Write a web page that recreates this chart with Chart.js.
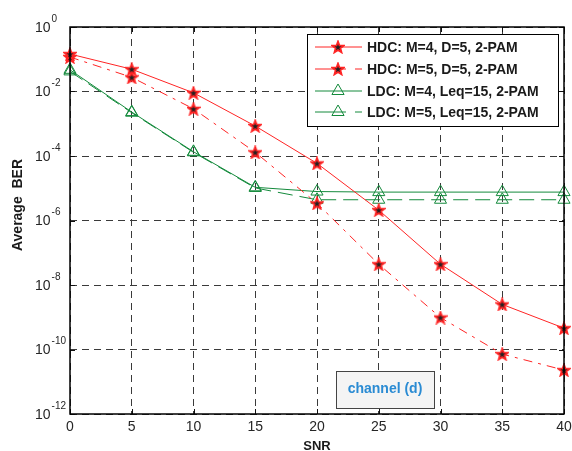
<!DOCTYPE html>
<html>
<head>
<meta charset="utf-8">
<script src="https://cdn.jsdelivr.net/npm/chart.js@4.4.1/dist/chart.umd.min.js"></script>
<style>
  html, body { margin: 0; padding: 0; background: #fff; }
  #wrap { width: 572px; height: 451px; }
</style>
</head>
<body>
<div id="wrap"><canvas id="myChart" width="572" height="451"></canvas></div>
<script>
// SNR values (x axis)
const snr = [0, 5, 10, 15, 20, 25, 30, 35, 40];

// Average BER
const hdcM4 = [1.45e-1, 4.9e-2, 9.1e-3, 8.5e-4, 5.9e-5, 2.1e-6, 4.4e-8, 2.5e-9, 4.6e-10];
const hdcM5 = [1.17e-1, 2.75e-2, 2.9e-3, 1.3e-4, 3.4e-6, 4.4e-8, 9.8e-10, 7.2e-11, 2.3e-11];
const ldcM4 = [4.7e-2, 2.3e-3, 1.35e-4, 1.07e-5, 7.9e-6, 7.6e-6, 7.6e-6, 7.6e-6, 7.6e-6];
const ldcM5 = [4.2e-2, 2.2e-3, 1.3e-4, 1.02e-5, 4.4e-6, 4.4e-6, 4.4e-6, 4.4e-6, 4.4e-6];

const seriesNames = [
    'HDC: M=4, D=5, 2-PAM',
    'HDC: M=5, D=5, 2-PAM',
    'LDC: M=4, Leq=15, 2-PAM',
    'LDC: M=5, Leq=15, 2-PAM'
];

// tick labels
const xTicks = [0, 5, 10, 15, 20, 25, 30, 35, 40];
const yExponents = [0, -2, -4, -6, -8, -10, -12];

const RED = '#ff2424';
const GREEN = '#148a3c';
const RED_DASH = [9, 6, 3, 6];
const GREEN_DASH = [15, 7];

// red pentagram with dark centre, like the matlab marker
function makeStar(size) {
    const c = document.createElement('canvas');
    c.width = size; c.height = size;
    const g = c.getContext('2d');
    const cx = size / 2, cy = size / 2 + 0.5;
    const ro = size / 2 - 1, ri = ro * 0.42;
    g.beginPath();
    for (let i = 0; i < 10; i++) {
        const r = i % 2 === 0 ? ro : ri;
        const a = -Math.PI / 2 + i * Math.PI / 5;
        const px = cx + r * Math.cos(a), py = cy + r * Math.sin(a);
        if (i === 0) g.moveTo(px, py); else g.lineTo(px, py);
    }
    g.closePath();
    g.fillStyle = '#222';
    g.fill();
    g.strokeStyle = RED;
    g.lineWidth = 1.8;
    g.stroke();
    return c;
}
const starImg = makeStar(14);

function toPoints(ys) {
    return snr.map((x, i) => ({ x: x, y: ys[i] }));
}

function drawMarker(ctx, kind, x, y) {
    if (kind === 'star') {
        ctx.drawImage(starImg, x - starImg.width / 2, y - starImg.height / 2);
    } else {
        const r = 7;
        ctx.beginPath();
        ctx.moveTo(x, y - r);
        ctx.lineTo(x + r * 0.87, y + r * 0.5);
        ctx.lineTo(x - r * 0.87, y + r * 0.5);
        ctx.closePath();
        ctx.strokeStyle = GREEN;
        ctx.lineWidth = 1;
        ctx.setLineDash([]);
        ctx.stroke();
    }
}

// axes labels, box, legend and annotation, matlab style
const decorPlugin = {
    id: 'decor',
    afterDatasetsDraw(chart) {
        const ctx = chart.ctx;
        const area = chart.chartArea;
        const xs = chart.scales.x, ys = chart.scales.y;
        ctx.save();

        // inner tick marks
        ctx.strokeStyle = '#111';
        ctx.lineWidth = 1;
        ctx.setLineDash([]);
        ctx.beginPath();
        xTicks.forEach(v => {
            const px = Math.round(xs.getPixelForValue(v)) + 0.5;
            ctx.moveTo(px, area.bottom); ctx.lineTo(px, area.bottom - 5);
            ctx.moveTo(px, area.top); ctx.lineTo(px, area.top + 5);
        });
        yExponents.forEach(e => {
            const py = Math.round(ys.getPixelForValue(Math.pow(10, e))) + 0.5;
            ctx.moveTo(area.left, py); ctx.lineTo(area.left + 5, py);
            ctx.moveTo(area.right, py); ctx.lineTo(area.right - 5, py);
        });
        ctx.stroke();

        // box
        ctx.lineWidth = 1.5;
        ctx.strokeStyle = '#000';
        ctx.strokeRect(area.left, area.top, area.right - area.left, area.bottom - area.top);

        // x tick labels
        ctx.fillStyle = '#262626';
        ctx.font = '14px "Liberation Sans", Arial, sans-serif';
        ctx.textAlign = 'center';
        ctx.textBaseline = 'middle';
        xTicks.forEach(v => {
            ctx.fillText(String(v), xs.getPixelForValue(v), 427);
        });

        // y tick labels 10^e
        yExponents.forEach(e => {
            const py = ys.getPixelForValue(Math.pow(10, e));
            ctx.font = '14px "Liberation Sans", Arial, sans-serif';
            ctx.textAlign = 'left';
            ctx.fillText('10', 35, py + 1);
            const w = ctx.measureText('10').width;
            ctx.font = '10px "Liberation Sans", Arial, sans-serif';
            ctx.fillText(String(e), 35 + w + 1, py - 8);
        });

        // axis titles
        ctx.fillStyle = '#1a1a1a';
        ctx.font = 'bold 13px "Liberation Sans", Arial, sans-serif';
        ctx.textAlign = 'center';
        ctx.fillText('SNR', (area.left + area.right) / 2, 446);
        ctx.save();
        ctx.translate(18, 205);
        ctx.rotate(-Math.PI / 2);
        ctx.font = 'bold 14px "Liberation Sans", Arial, sans-serif';
        ctx.fillText('Average  BER', 0, 0);
        ctx.restore();

        // legend
        const lx = 307, ly = 34, lw = 251, lh = 92;
        ctx.fillStyle = '#fff';
        ctx.fillRect(lx, ly, lw, lh);
        ctx.strokeStyle = '#000';
        ctx.lineWidth = 1;
        ctx.strokeRect(lx + 0.5, ly + 0.5, lw, lh);
        const rows = [47, 69, 91, 112];
        const styles = [
            { color: RED, dash: [], marker: 'star' },
            { color: RED, dash: 'short', marker: 'star' },
            { color: GREEN, dash: [], marker: 'tri' },
            { color: GREEN, dash: 'short', marker: 'tri' }
        ];
        rows.forEach((ry, i) => {
            const s = styles[i];
            ctx.strokeStyle = s.color;
            ctx.lineWidth = 1;
            ctx.setLineDash([]);
            ctx.beginPath();
            if (s.dash === 'short') {
                ctx.moveTo(315, ry); ctx.lineTo(346, ry);
                ctx.moveTo(355, ry); ctx.lineTo(362, ry);
            } else {
                ctx.moveTo(315, ry); ctx.lineTo(362, ry);
            }
            ctx.stroke();
            drawMarker(ctx, s.marker, 338, ry);
            ctx.fillStyle = '#1a1a1a';
            ctx.font = 'bold 14px "Liberation Sans", Arial, sans-serif';
            ctx.textAlign = 'left';
            ctx.textBaseline = 'middle';
            ctx.fillText(seriesNames[i], 367, ry + 1);
        });

        // annotation box
        ctx.fillStyle = '#f4f4f4';
        ctx.fillRect(336, 371, 98, 37);
        ctx.strokeStyle = '#444';
        ctx.lineWidth = 1;
        ctx.strokeRect(336.5, 371.5, 98, 37);
        ctx.fillStyle = '#2a8bd3';
        ctx.font = 'bold 14px "Liberation Sans", Arial, sans-serif';
        ctx.textAlign = 'center';
        ctx.fillText('channel (d)', 385, 389);

        ctx.restore();
    }
};

const lineDefaults = {
    showLine: true,
    borderWidth: 1,
    clip: false,
    tension: 0
};

new Chart(document.getElementById('myChart').getContext('2d'), {
    type: 'scatter',
    data: {
        datasets: [
            Object.assign({}, lineDefaults, {
                label: seriesNames[0], data: toPoints(hdcM4),
                borderColor: RED, pointStyle: starImg, borderDash: []
            }),
            Object.assign({}, lineDefaults, {
                label: seriesNames[1], data: toPoints(hdcM5),
                borderColor: RED, pointStyle: starImg, borderDash: RED_DASH
            }),
            Object.assign({}, lineDefaults, {
                label: seriesNames[2], data: toPoints(ldcM4),
                borderColor: GREEN, pointStyle: 'triangle', pointRadius: 7,
                pointBorderColor: GREEN, pointBackgroundColor: 'rgba(0,0,0,0)', pointBorderWidth: 1,
                borderDash: []
            }),
            Object.assign({}, lineDefaults, {
                label: seriesNames[3], data: toPoints(ldcM5),
                borderColor: GREEN, pointStyle: 'triangle', pointRadius: 7,
                pointBorderColor: GREEN, pointBackgroundColor: 'rgba(0,0,0,0)', pointBorderWidth: 1,
                borderDash: GREEN_DASH
            })
        ]
    },
    options: {
        responsive: false,
        animation: false,
        events: [],
        layout: { padding: { left: 70, right: 8, top: 27, bottom: 37 } },
        plugins: {
            legend: { display: false },
            tooltip: { enabled: false }
        },
        scales: {
            x: {
                type: 'linear', min: 0, max: 40,
                afterBuildTicks: axis => { axis.ticks = xTicks.map(v => ({ value: v })); },
                ticks: { display: false },
                grid: { color: '#3a3a3a', lineWidth: 1, drawTicks: false },
                border: { display: false, dash: [7, 5] }
            },
            y: {
                type: 'logarithmic', min: 1e-12, max: 1,
                afterBuildTicks: axis => { axis.ticks = yExponents.map(e => ({ value: Math.pow(10, e) })); },
                ticks: { display: false },
                grid: { color: '#3a3a3a', lineWidth: 1, drawTicks: false },
                border: { display: false, dash: [7, 5] }
            }
        }
    },
    plugins: [decorPlugin]
});
</script>
</body>
</html>
